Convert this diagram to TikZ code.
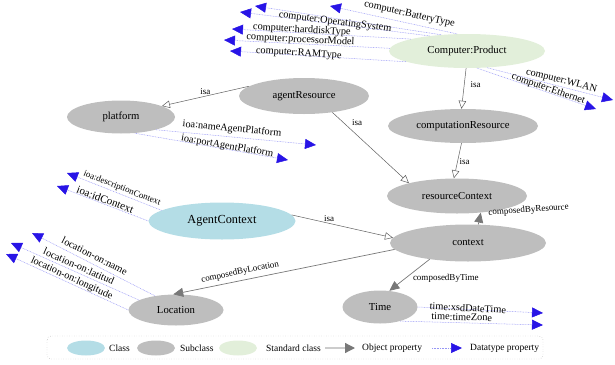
\documentclass[tikz,border=0pt]{standalone}
\usepackage{fontspec}
\setmainfont{Liberation Serif}
\usepackage{xcolor}
\usetikzlibrary{shapes.geometric,arrows.meta}

\definecolor{classblue}{RGB}{180,221,230}
\definecolor{subgray}{RGB}{190,190,190}
\definecolor{stdgreen}{RGB}{226,239,218}
\definecolor{isagray}{RGB}{95,95,95}
\definecolor{objgray}{RGB}{120,120,120}
\definecolor{dpline}{RGB}{150,150,245}
\definecolor{dphead}{RGB}{40,20,230}

\begin{document}
\begin{tikzpicture}[x=1pt,y=-1pt,
  cls/.style={ellipse, fill=#1, inner sep=0pt, font=\fontsize{10.7}{12}\selectfont},
  lbl/.style={inner sep=1pt, font=\fontsize{9}{10}\selectfont},
  dlbl/.style={inner sep=0.5pt, font=\fontsize{10.3}{11}\selectfont},
  legtxt/.style={inner sep=1pt, anchor=west, font=\fontsize{9.5}{11}\selectfont},
  isa/.style={draw=isagray, line width=0.5pt, -{Triangle[length=8pt,width=7.5pt,fill=white]}},
  obj/.style={draw=objgray, line width=0.7pt, -{Triangle[length=10pt,width=9pt,color=objgray]}},
  legobj/.style={draw=black!20, line width=1.2pt, -{Triangle[length=10pt,width=10pt,color=objgray]}},
  dprop/.style={draw=dpline, line width=0.5pt, dash pattern=on 0.8pt off 0.8pt,
    -{Triangle[length=11pt,width=10pt,color=dphead]}},
]
\useasboundingbox (0,0) rectangle (615,364);

% classes
\node[cls=stdgreen, minimum width=156pt, minimum height=34pt] (product) at (467,51) {Computer:Product};
\node[cls=subgray, minimum width=130pt, minimum height=36pt] (agentres) at (304,96) {agentResource};
\node[cls=subgray, minimum width=108pt, minimum height=33pt] (platform) at (121,117) {platform};
\node[cls=subgray, minimum width=150pt, minimum height=34pt] (comput) at (463,126) {computationResource};
\node[cls=subgray, minimum width=140pt, minimum height=35pt] (rescontext) at (457,196) {resourceContext};
\node[cls=subgray, minimum width=156pt, minimum height=37pt] (context) at (468,243) {context};
\node[cls=classblue, minimum width=147pt, minimum height=37pt, font=\fontsize{12.3}{14}\selectfont] (agentctx) at (222,221) {AgentContext};
\node[cls=subgray, minimum width=75pt, minimum height=33pt] (time) at (380,307) {Time};
\node[cls=subgray, minimum width=95pt, minimum height=31pt] (location) at (176,310) {Location};

% isa
\draw[isa] (agentres.170) -- node[lbl, midway, above] {isa} (platform.15);
\draw[isa] (agentres.-30) -- node[lbl, pos=0.15, right=7pt] {isa} (rescontext.165);
\draw[isa] (product.-93) -- node[lbl, pos=0.4, right=5pt] {isa} (comput.95);
\draw[isa] (comput.-95) -- node[lbl, pos=0.53, right=1pt] {isa} (rescontext.100);
\draw[isa] (agentctx.5) -- node[lbl, pos=0.37, above=1pt] {isa} (context.176);

% object properties
\draw[obj] (context.61) -- node[lbl, pos=0.5, anchor=south west, xshift=8pt, rotate=4] {composedByResource} (rescontext.-35);
\draw[obj] (context.-175) -- node[lbl, pos=0.69, sloped, above=3pt] {composedByLocation} (location.100);
\draw[obj] (context.-157) -- node[lbl, pos=0.62, right=7pt] {composedByTime} (time.60);

% datatype properties
\coordinate (bt) at (330,6);
\coordinate (extra) at (255,6);
\coordinate (os) at (240,12);
\coordinate (hd) at (232,29);
\coordinate (pm) at (224,40);
\coordinate (ram) at (230,51);
\coordinate (wlan) at (613,100);
\coordinate (eth) at (596,109);
\coordinate (pname) at (316,145);
\coordinate (pport) at (288,160);
\coordinate (cdesc) at (67,173);
\coordinate (cid) at (57,186);
\coordinate (lname) at (32,233);
\coordinate (llat) at (11,243);
\coordinate (llong) at (6,254);
\coordinate (tdate) at (543,313);
\coordinate (tzone) at (543,325);

\draw[dprop] (product.120) -- node[dlbl, pos=0.39, sloped, above=3.5pt] {computer:BatteryType} (bt);
\draw[dprop] (product.148) -- (extra);
\draw[dprop] (product.158) -- node[dlbl, pos=0.5, sloped, above=-3.5pt] {computer:OperatingSystem} (os);
\draw[dprop] (product.168) -- node[dlbl, pos=0.61, sloped, above=-2.5pt] {computer:harddiskType} (hd);
\draw[dprop] (product.178) -- node[dlbl, pos=0.54, sloped, above=-1.5pt] {computer:processorModel} (pm);
\draw[dprop] (product.190) -- node[dlbl, pos=0.61, sloped, above=-3.5pt] {computer:RAMType} (ram);
\draw[dprop] (product.-40) -- node[dlbl, pos=0.58, sloped, above=0.5pt] {computer:WLAN} (wlan);
\draw[dprop] (product.-60) -- node[dlbl, pos=0.59, sloped, above=-2pt] {computer:Ethernet} (eth);

\draw[dprop] (platform.-20) -- node[dlbl, pos=0.47, sloped, above=2.5pt] {ioa:nameAgentPlatform} (pname);
\draw[dprop] (platform.-50) -- node[dlbl, pos=0.6, sloped, above=-2.5pt] {ioa:portAgentPlatform} (pport);

\draw[dprop] (agentctx.170) -- node[lbl, pos=0.44, sloped, above=0.5pt] {ioa:descriptionContext} (cdesc);
\draw[dprop] (agentctx.180) -- node[dlbl, pos=0.49, sloped, above=0pt, font=\fontsize{11}{12}\selectfont] {ioa:idContext} (cid);

\draw[dprop] (location.146) -- node[dlbl, pos=0.52, sloped, above=3.5pt] {location-on:name} (lname);
\draw[dprop] (location.165) -- node[dlbl, pos=0.49, sloped, above=2pt] {location-on:latitud} (llat);
\draw[dprop] (location.180) -- node[dlbl, pos=0.48, sloped, above=-0.5pt] {location-on:longitude} (llong);

\draw[dprop] (time.0) -- node[dlbl, pos=0.4, sloped, above=-3pt] {time:xsdDateTime} (tdate);
\draw[dprop] (time.-35) -- node[dlbl, pos=0.43, sloped, above=1.5pt] {time:timeZone} (tzone);

% legend
\draw[black!45, dotted, rounded corners=4pt] (47,336) rectangle (543,359);
\node[cls=classblue, minimum width=38pt, minimum height=15pt] (legclass) at (86,348) {};
\node[legtxt] (legclasstxt) at (108,348) {Class};
\node[cls=subgray, minimum width=38pt, minimum height=15pt] (legsub) at (156,348) {};
\node[legtxt] (legsubtxt) at (179,348) {Subclass};
\node[cls=stdgreen, minimum width=38pt, minimum height=15pt] (legstd) at (238,348) {};
\node[legtxt] (legstdtxt) at (265,348) {Standard class};
\coordinate (lgo1) at (325,348);
\coordinate (lgo2) at (355,348);
\draw[legobj] (lgo1) -- (lgo2);
\node[legtxt] (legobjtxt) at (361,348) {Object property};
\coordinate (lgd1) at (432,348);
\coordinate (lgd2) at (462,348);
\draw[dprop] (lgd1) -- (lgd2);
\node[legtxt] (legdptxt) at (469,348) {Datatype property};
\end{tikzpicture}
\end{document}
